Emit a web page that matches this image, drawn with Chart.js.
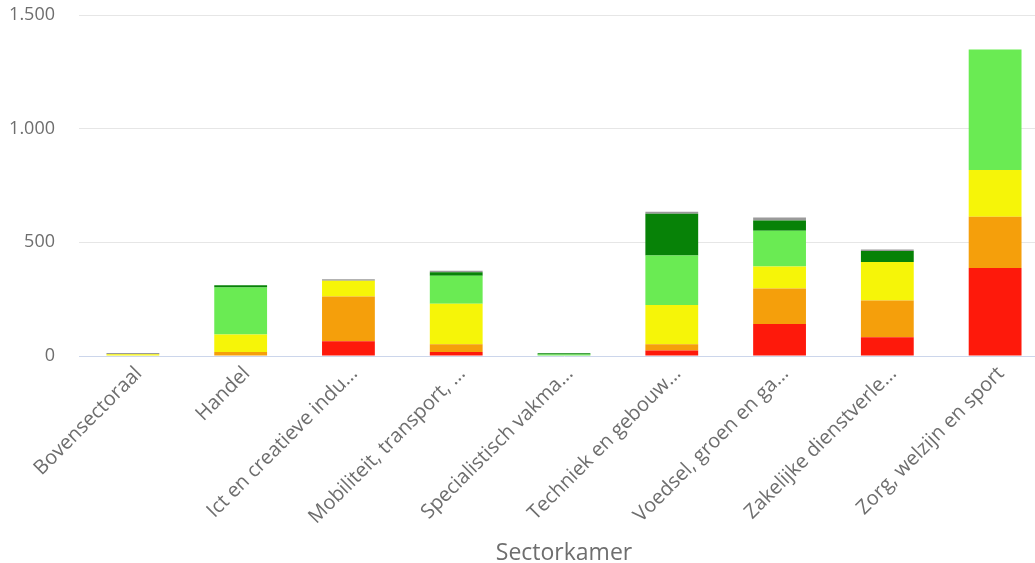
<!DOCTYPE html>
<html>
<head>
<meta charset="utf-8">
<script src="https://cdn.jsdelivr.net/npm/chart.js@4/dist/chart.umd.min.js"></script>
<style>
    html, body { margin: 0; padding: 0; background: #ffffff; overflow: hidden; }
    #wrap { position: relative; width: 1049px; height: 563px; }
</style>
</head>
<body>
<div id="wrap"><canvas id="barChart"></canvas></div>
<script>
// Categories (labels are truncated as in the original)
const categories = [
    'Bovensectoraal',
    'Handel',
    'Ict en creatieve indu...',
    'Mobiliteit, transport, ...',
    'Specialistisch vakma...',
    'Techniek en gebouw...',
    'Voedsel, groen en ga...',
    'Zakelijke dienstverle...',
    'Zorg, welzijn en sport'
];

// Stacked series, bottom to top
const redValues        = [0, 0, 65, 18, 0, 24, 141, 82, 387];
const orangeValues     = [0, 18, 197, 34, 0, 28, 156, 162, 225];
const yellowValues     = [8, 77, 69, 178, 0, 172, 97, 170, 206];
const lightGreenValues = [0, 206, 0, 123, 7, 218, 157, 0, 530];
const darkGreenValues  = [0, 10, 0, 15, 5, 184, 45, 48, 0];
const grayValues       = [5, 0, 7, 7, 0, 9, 13, 6, 0];

const yTicks = [0, 500, 1000, 1500];

const textColor = '#6e6e6e';
const fontFamily = "'Open Sans', sans-serif";

function makeSet(label, data, color) {
    return {
        label: label,
        data: data,
        backgroundColor: color,
        borderWidth: 0,
        categoryPercentage: 1.0,
        barPercentage: 0.49
    };
}

function formatThousands(v) {
    return String(v).replace(/\B(?=(\d{3})+(?!\d))/g, '.');
}

new Chart(document.getElementById('barChart'), {
    type: 'bar',
    data: {
        labels: categories,
        datasets: [
            makeSet('Rood', redValues, '#fe190b'),
            makeSet('Oranje', orangeValues, '#f59f0b'),
            makeSet('Geel', yellowValues, '#f6f508'),
            makeSet('Lichtgroen', lightGreenValues, '#6aeb53'),
            makeSet('Donkergroen', darkGreenValues, '#078207'),
            makeSet('Grijs', grayValues, '#9a9a9a')
        ]
    },
    options: {
        responsive: true,
        maintainAspectRatio: false,
        animation: false,
        layout: {
            padding: { top: 15, right: 0, bottom: 0, left: 0 }
        },
        plugins: {
            legend: { display: false },
            tooltip: { enabled: false }
        },
        scales: {
            x: {
                stacked: true,
                grid: { display: false, drawTicks: false },
                border: { display: true, color: '#ccd6eb', width: 1 },
                ticks: {
                    color: textColor,
                    font: { family: fontFamily, size: 20 },
                    minRotation: 45,
                    maxRotation: 45,
                    autoSkip: false,
                    padding: 6,
                    labelOffset: 6
                },
                title: {
                    display: true,
                    text: 'Sectorkamer',
                    color: textColor,
                    font: { family: fontFamily, size: 23, lineHeight: 1.0 },
                    padding: { top: 0, bottom: -2 }
                },
                afterFit: function(scale) {
                    scale.paddingLeft = 0;
                    scale.paddingRight = 0;
                    scale.height = 207;
                }
            },
            y: {
                stacked: true,
                min: 0,
                max: 1500,
                afterBuildTicks: function(axis) {
                    axis.ticks = yTicks.map(v => ({ value: v }));
                },
                grid: {
                    drawTicks: false,
                    color: function(ctx) {
                        return ctx.tick && ctx.tick.value === 0 ? 'rgba(0,0,0,0)' : '#e6e6e6';
                    }
                },
                border: { display: false },
                ticks: {
                    color: textColor,
                    font: { family: fontFamily, size: 18 },
                    padding: 24,
                    callback: function(value) {
                        return formatThousands(value);
                    }
                },
                afterFit: function(scale) {
                    scale.width = 79;
                    scale.paddingTop = 0;
                    scale.paddingBottom = 0;
                }
            }
        }
    }
});
</script>
</body>
</html>
